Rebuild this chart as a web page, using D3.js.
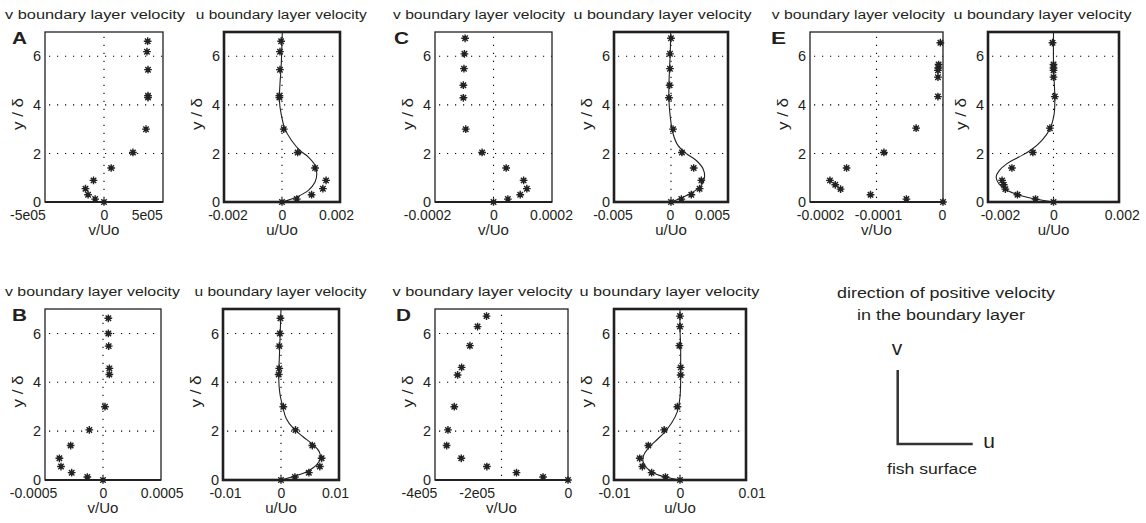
<!DOCTYPE html>
<html><head><meta charset="utf-8">
<script src="https://cdn.jsdelivr.net/npm/d3@7"></script>
<style>
body{margin:0;background:#fff}
svg{display:block}
text{font-family:"Liberation Sans",Arial,sans-serif;fill:#231f20}
</style></head><body>
<svg id="c" width="1146" height="523"></svg>
<script>
// ---------- data ----------
const yTicks = [0, 2, 4, 6];
const yDomain = [0, 7];
const vTitle = "v boundary layer velocity";
const uTitle = "u boundary layer velocity";
const yLabel = "y / δ";

// Panel A
const aY = [6.62, 6.19, 5.45, 4.38, 4.30, 3.0, 2.04, 1.40, 0.89, 0.55, 0.30, 0.12, 0];
const aV = [3.70e5, 3.64e5, 3.73e5, 3.73e5, 3.73e5, 3.56e5, 2.45e5, 0.61e5, -0.89e5, -1.57e5, -1.35e5, -0.75e5, 0];
const aU = [-0.00003, -0.00007, -0.00007, -0.00009, -0.00009, 0.00006, 0.00054, 0.00114, 0.00152, 0.00141, 0.00102, 0.00051, 0];
const aCurveY = [0, 0.21, 0.48, 0.82, 1.16, 1.51, 1.85, 2.12, 2.53, 3.01, 3.63, 4.18, 4.86, 5.55, 6.23, 6.96];
const aCurveU = [0, 0.00051, 0.00091, 0.00114, 0.0012, 0.00114, 0.00091, 0.00062, 0.00033, 0.0001, -0.00003, -0.00009, -0.00007, -0.00003, -0.00001, 0.00001];
const aVDomain = [-5e5, 5e5], aVTicks = [-5e5, 0, 5e5], aVTickLabels = ["-5e05", "0", "5e05"];
const aUDomain = [-0.002, 0.002], aUTicks = [-0.002, 0, 0.002], aUTickLabels = ["-0.002", "0", "0.002"];

// Panel B
const bY = [6.62, 6.00, 5.48, 4.57, 4.32, 3.0, 2.05, 1.41, 0.89, 0.55, 0.30, 0.12, 0];
const bV = [0.000046, 0.000046, 0.000049, 0.000055, 0.000055, 0.000017, -0.000118, -0.000279, -0.000376, -0.000362, -0.00027, -0.000135, 0];
const bU = [-0.0001, -0.0002, -0.0003, -0.0003, -0.0004, 0.0004, 0.0025, 0.0054, 0.0070, 0.0067, 0.0048, 0.0024, 0];
const bCurveY = [0, 0.14, 0.34, 0.61, 0.89, 1.16, 1.43, 1.77, 2.12, 2.52, 3.0, 3.55, 4.23, 4.91, 5.59, 6.27, 6.98];
const bCurveU = [0, 0.0021, 0.0044, 0.0061, 0.0068, 0.0066, 0.0056, 0.0038, 0.0021, 0.0009, 0.0003, -0.0002, -0.0004, -0.0003, -0.0002, -0.0001, 0];
const bVDomain = [-0.0005, 0.0005], bVTicks = [-0.0005, 0, 0.0005], bVTickLabels = ["-0.0005", "0", "0.0005"];
const bUDomain = [-0.01, 0.01], bUTicks = [-0.01, 0, 0.01], bUTickLabels = ["-0.01", "0", "0.01"];

// Panel C
const cY = [6.74, 6.10, 5.49, 4.81, 4.29, 3.0, 2.04, 1.40, 0.89, 0.55, 0.30, 0.12, 0];
const cV = [-0.0000971, -0.0000994, -0.000101, -0.000103, -0.000103, -0.0000949, -0.0000389, 0.0000434, 0.000103, 0.000114, 0.0000914, 0.0000491, 0];
const cU = [0, -0.00009, -0.00009, -0.00012, -0.00018, 0.00018, 0.00096, 0.00199, 0.00266, 0.00251, 0.00178, 0.00091, 0];
const cCurveY = [0, 0.16, 0.41, 0.68, 1.03, 1.37, 1.71, 1.99, 2.33, 2.81, 3.49, 4.18, 4.86, 5.55, 6.23, 6.96];
const cCurveU = [0, 0.00091, 0.00193, 0.00266, 0.00295, 0.00281, 0.00222, 0.00135, 0.00061, 0.00018, -0.00006, -0.00018, -0.00018, -0.00012, -0.00006, -0.00003];
const cVDomain = [-0.0002, 0.0002], cVTicks = [-0.0002, 0, 0.0002], cVTickLabels = ["-0.0002", "0", "0.0002"];
const cUDomain = [-0.005, 0.005], cUTicks = [-0.005, 0, 0.005], cUTickLabels = ["-0.005", "0", "0.005"];

// Panel D
const dY = [6.71, 6.28, 5.50, 4.61, 4.30, 3.0, 2.05, 1.41, 0.89, 0.55, 0.30, 0.12, 0];
const dV = [-2.45e5, -2.72e5, -2.95e5, -3.2e5, -3.32e5, -3.42e5, -3.61e5, -3.65e5, -3.21e5, -2.44e5, -1.55e5, -0.75e5, 0];
const dU = [0, 0, -0.0001, 0.0001, 0.0001, -0.0004, -0.0024, -0.0048, -0.0061, -0.0057, -0.0043, -0.0022, 0];
const dCurveY = [0, 0.11, 0.27, 0.51, 0.75, 1.02, 1.30, 1.57, 1.91, 2.32, 2.80, 3.41, 4.09, 4.77, 5.46, 6.14, 6.98];
const dCurveU = [0, -0.00205, -0.0038, -0.0051, -0.0056, -0.0055, -0.0048, -0.0038, -0.0025, -0.0013, -0.0004, 0, 0.0001, 0.0001, 0.0001, 0, 0];
const dVDomain = [-4e5, 0], dVTicks = [-4e5, -2e5, 0], dVTickLabels = ["-4e05", "-2e05", "0"];
const dUDomain = [-0.01, 0.01], dUTicks = [-0.01, 0, 0.01], dUTickLabels = ["-0.01", "0", "0.01"];

// Panel E
const eY = [6.56, 5.66, 5.52, 5.42, 5.14, 4.34, 3.04, 2.04, 1.40, 0.89, 0.71, 0.53, 0.30, 0.12, 0];
const eV = [-0.000004, -0.0000066, -0.0000071, -0.0000076, -0.0000076, -0.0000076, -0.0000404, -0.0000889, -0.000145, -0.000170, -0.000162, -0.000154, -0.000109, -0.000055, 0];
const eU = [-0.00003, 0, 0, 0, 0, 0.00004, -0.00011, -0.00063, -0.00127, -0.00157, -0.00152, -0.00147, -0.0011, -0.00055, 0];
const eCurveY = [0, 0.11, 0.27, 0.48, 0.75, 1.03, 1.30, 1.58, 1.85, 2.12, 2.53, 3.01, 3.63, 4.32, 5.0, 5.68, 6.96];
const eCurveU = [0, -0.00051, -0.00102, -0.00142, -0.00167, -0.00175, -0.00165, -0.00142, -0.00106, -0.00071, -0.00036, -0.00011, 0.00002, 0.00004, 0.00002, 0, 0];
const eVDomain = [-0.0002, 0], eVTicks = [-0.0002, -0.0001, 0], eVTickLabels = ["-0.0002", "-0.0001", "0"];
const eUDomain = [-0.002, 0.002], eUTicks = [-0.002, 0, 0.002], eUTickLabels = ["-0.002", "0", "0.002"];

const legendLines = ["direction of positive velocity", "in the boundary layer"];
const legendFoot = "fish surface";

// ---------- layout (positions / styles only) ----------
const ink = "#231f20";
const rows = { top: { y0: 32, y1: 202 }, bottom: { y0: 309, y1: 480 } };
const panels = [
  { letter: "A", row: "top", letterX: 12, v: { x0: 45, x1: 163, tc: 95, tw: 180, nudge: [-17.5, 0, -16.3] }, u: { x0: 224, x1: 340, tc: 281.3, tw: 171, nudge: [3.5, 0, -4] },
    y: aY, vx: aV, ux: aU, cy: aCurveY, cu: aCurveU, vd: aVDomain, vt: aVTicks, vl: aVTickLabels, ud: aUDomain, ut: aUTicks, ul: aUTickLabels },
  { letter: "C", row: "top", letterX: 394, v: { x0: 435, x1: 552, tc: 479, tw: 172, nudge: [-8, 0, -1] }, u: { x0: 614, x1: 728, tc: 662.5, tw: 178, nudge: [-1.5, -1, -16] },
    y: cY, vx: cV, ux: cU, cy: cCurveY, cu: cCurveU, vd: cVDomain, vt: cVTicks, vl: cVTickLabels, ud: cUDomain, ut: cUTicks, ul: cUTickLabels },
  { letter: "E", row: "top", letterX: 771, v: { x0: 810, x1: 943, tc: 858.3, tw: 173, nudge: [10, 1.5, -1] }, u: { x0: 988, x1: 1119, tc: 1042.5, tw: 178, nudge: [12, 0, 2.7] },
    y: eY, vx: eV, ux: eU, cy: eCurveY, cu: eCurveU, vd: eVDomain, vt: eVTicks, vl: eVTickLabels, ud: eUDomain, ut: eUTicks, ul: eUTickLabels },
  { letter: "B", row: "bottom", letterX: 12, v: { x0: 45, x1: 161, tc: 92.5, tw: 175, nudge: [-12, 0, 0.7] }, u: { x0: 223, x1: 339, tc: 280.5, tw: 172, nudge: [2, 0, -4] },
    y: bY, vx: bV, ux: bU, cy: bCurveY, cu: bCurveU, vd: bVDomain, vt: bVTicks, vl: bVTickLabels, ud: bUDomain, ut: bUTicks, ul: bUTickLabels },
  { letter: "D", row: "bottom", letterX: 396, v: { x0: 435, x1: 568, tc: 482.5, tw: 180, nudge: [-16, -24.8, 0] }, u: { x0: 614, x1: 746, tc: 669.5, tw: 180, nudge: [0, 0, 5.7] },
    y: dY, vx: dV, ux: dU, cy: dCurveY, cu: dCurveU, vd: dVDomain, vt: dVTicks, vl: dVTickLabels, ud: dUDomain, ut: dUTicks, ul: dUTickLabels }
];

const svg = d3.select("#c");

function stretched(parent, str, x, y, size, width, opts = {}) {
  const t = parent.append("text")
    .attr("x", x).attr("y", y)
    .attr("font-size", size)
    .attr("text-anchor", opts.anchor || "middle")
    .attr("textLength", width)
    .attr("lengthAdjust", "spacingAndGlyphs")
    .text(str);
  if (opts.weight) t.attr("font-weight", opts.weight);
  if (opts.transform) t.attr("transform", opts.transform);
  return t;
}

const starSymbol = {
  draw(ctx, size) {
    const r = Math.sqrt(size) / 2, d = r * 0.7071;
    ctx.moveTo(-r, 0); ctx.lineTo(r, 0);
    ctx.moveTo(0, -r); ctx.lineTo(0, r);
    ctx.moveTo(-d, -d); ctx.lineTo(d, d);
    ctx.moveTo(-d, d); ctx.lineTo(d, -d);
  }
};
const starPath = d3.symbol().type(starSymbol).size(60)();

function drawPlot(box, rowBox, domain, ticks, labels, ys, xs, curveY, curveX, kind) {
  const g = svg.append("g");
  const x = d3.scaleLinear().domain(domain).range([box.x0, box.x1]);
  const y = d3.scaleLinear().domain(yDomain).range([rowBox.y1, rowBox.y0]);

  // grid
  const grid = g.append("g").attr("stroke", "#000").attr("stroke-width", 1.1)
    .attr("stroke-dasharray", "1.2,6.8").attr("fill", "none");
  grid.selectAll("line.h").data(yTicks.filter(t => t > 0)).join("line")
    .attr("x1", box.x0 + 4).attr("x2", box.x1).attr("y1", d => y(d)).attr("y2", d => y(d));
  grid.selectAll("line.v").data(ticks.filter(t => t > domain[0] && t < domain[1])).join("line")
    .attr("x1", d => x(d)).attr("x2", d => x(d)).attr("y1", rowBox.y1 - 4).attr("y2", rowBox.y0);

  // curve
  if (curveY) {
    const pts = curveY.map((v, i) => [curveX[i], v]);
    g.append("path").datum(pts)
      .attr("fill", "none").attr("stroke", ink).attr("stroke-width", 1.1)
      .attr("d", d3.line().x(d => x(d[0])).y(d => y(d[1])).curve(d3.curveCatmullRom.alpha(0.5)));
  }

  // frame
  if (kind === "u") {
    g.append("rect").attr("x", box.x0).attr("y", rowBox.y0)
      .attr("width", box.x1 - box.x0).attr("height", rowBox.y1 - rowBox.y0)
      .attr("fill", "none").attr("stroke", ink).attr("stroke-width", 2.6);
  } else {
    g.append("rect").attr("x", box.x0).attr("y", rowBox.y0)
      .attr("width", box.x1 - box.x0).attr("height", rowBox.y1 - rowBox.y0)
      .attr("fill", "none").attr("stroke", ink).attr("stroke-width", 1.3);
    g.append("line").attr("x1", box.x0).attr("x2", box.x1)
      .attr("y1", rowBox.y1).attr("y2", rowBox.y1)
      .attr("stroke", ink).attr("stroke-width", 2);
  }

  // points
  const pts = ys.map((v, i) => [xs[i], v]);
  const m = g.append("g").selectAll("g").data(pts).join("g")
    .attr("transform", d => `translate(${x(d[0])},${y(d[1])})`);
  m.append("circle").attr("r", 2.2).attr("fill", "#222");
  m.append("path").attr("d", starPath).attr("stroke", "#222").attr("stroke-width", 1.4).attr("fill", "none");

  // y axis
  const ya = g.append("g").attr("transform", `translate(${box.x0},0)`)
    .call(d3.axisLeft(y).tickValues(yTicks).tickFormat(d3.format("d")).tickSize(0).tickPadding(4));
  ya.select(".domain").remove();
  ya.selectAll("text").attr("font-size", 14.5).attr("font-family", "Liberation Sans, Arial, sans-serif").attr("fill", ink);

  // x axis
  const xa = g.append("g").attr("transform", `translate(0,${rowBox.y1})`)
    .call(d3.axisBottom(x).tickValues(ticks).tickFormat((d, i) => labels[i]).tickSize(0).tickPadding(8));
  xa.select(".domain").remove();
  xa.selectAll("text").attr("font-size", 14).attr("font-family", "Liberation Sans, Arial, sans-serif").attr("fill", ink)
    .attr("dx", (d, i) => box.nudge[i]);

  // y label
  const ymid = (rowBox.y0 + rowBox.y1) / 2 - 3;
  stretched(g, yLabel, 0, 0, 14, 32, { transform: `translate(${box.x0 - 22},${ymid}) rotate(-90)` });

  // x label
  g.append("text").attr("x", (box.x0 + box.x1) / 2).attr("y", rowBox.y1 + 33)
    .attr("text-anchor", "middle").attr("font-size", 15).text(kind === "u" ? "u/Uo" : "v/Uo");

  // title
  stretched(g, kind === "u" ? uTitle : vTitle, box.tc, rowBox.y0 - 13.5, 12.5, box.tw);
}

panels.forEach(p => {
  const rb = rows[p.row];
  drawPlot(p.v, rb, p.vd, p.vt, p.vl, p.y, p.vx, null, null, "v");
  drawPlot(p.u, rb, p.ud, p.ut, p.ul, p.y, p.ux, p.cy, p.cu, "u");
  stretched(svg, p.letter, p.letterX, rb.y0 + 11.5, 16, 15, { anchor: "start", weight: "bold" });
});

// legend
const lg = svg.append("g");
stretched(lg, legendLines[0], 946, 298, 14, 218);
stretched(lg, legendLines[1], 941, 320, 14, 168);
lg.append("text").attr("x", 897).attr("y", 355).attr("text-anchor", "middle").attr("font-size", 21).text("v");
lg.append("text").attr("x", 989).attr("y", 448).attr("text-anchor", "middle").attr("font-size", 21).text("u");
lg.append("path").attr("d", "M897.7,370 V444 H972.7").attr("fill", "none").attr("stroke", "#333").attr("stroke-width", 2.5);
stretched(lg, legendFoot, 932, 474, 14, 90);
</script>
</body></html>
